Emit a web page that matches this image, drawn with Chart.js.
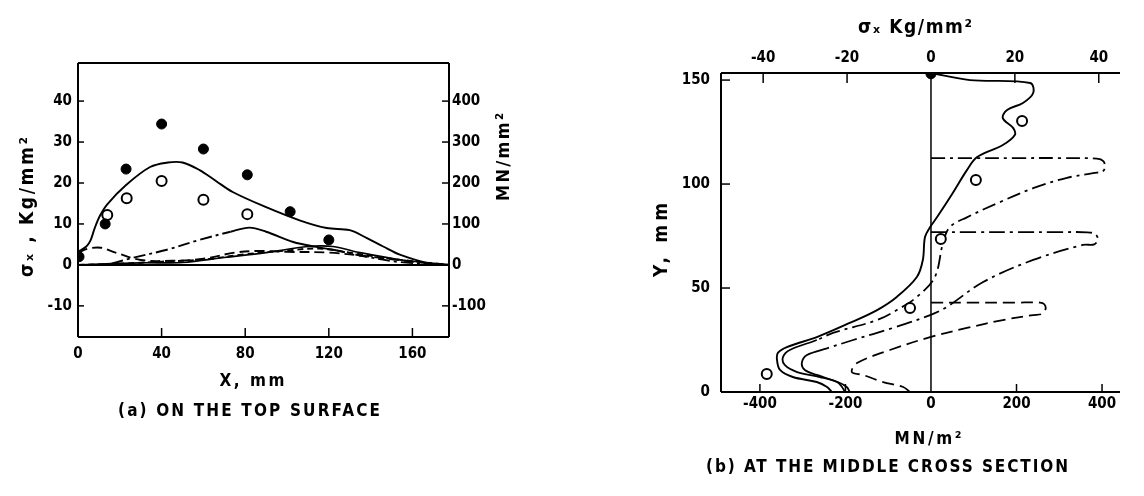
<!DOCTYPE html>
<html><head><meta charset="utf-8">
<script src="https://cdn.jsdelivr.net/npm/chart.js@4.4.1/dist/chart.umd.min.js"></script>
<style>
html,body{margin:0;padding:0;background:#fff;width:1144px;height:496px;overflow:hidden}
#ca{position:absolute;left:0;top:0}
#cb{position:absolute;left:560px;top:0}
</style></head><body>
<canvas id="ca" width="560" height="496"></canvas>
<canvas id="cb" width="584" height="496"></canvas>
<script>
// ---------- Panel (a): on the top surface (X mm, sigma_x Kg/mm2) ----------
const aMeasFilledX = [0.5, 13, 23, 40, 60, 81, 101.5, 120];
const aMeasFilledY = [2, 10, 23.4, 34.4, 28.3, 22, 13, 6.1];
const aMeasOpenX = [14, 23.3, 40, 60, 81];
const aMeasOpenY = [12.2, 16.3, 20.5, 15.9, 12.4];
const aSolidX = [0, 4, 6, 8, 10.5, 14, 23, 34.5, 43, 50, 58, 66, 74, 90, 106, 119, 130, 138, 146, 154, 167, 177.5];
const aSolidY = [3.2, 4.5, 6, 9, 12, 14.8, 19.5, 23.9, 25, 25, 23.2, 20.5, 17.8, 14.1, 10.9, 9, 8.5, 6.6, 4.5, 2.5, 0.5, 0];
const aDashDotX = [16, 26, 42.5, 58, 73, 82, 90, 103, 114, 122, 138, 154, 177.5];
const aDashDotY = [0.3, 1.7, 3.7, 6.1, 8.1, 9.1, 8.1, 5.6, 4.4, 3.7, 2, 0.7, 0];
const aLongDashX = [0, 5, 11, 18, 30, 45, 60, 75, 85, 100, 120, 140, 160, 177.5];
const aLongDashY = [3, 4, 4.2, 3, 1.2, 1, 1.5, 3, 3.4, 3.2, 3, 2, 0.8, 0];
const aShortDashX = [0, 20, 40, 60, 80, 100, 115, 130, 150, 177.5];
const aShortDashY = [0, 0.3, 0.8, 1.3, 2.6, 3.5, 4, 3, 1.5, 0];
const aThinX = [0, 30, 50, 70, 90, 110, 122, 135, 155, 177.5];
const aThinY = [0, 0.5, 0.6, 1.8, 3, 4.5, 4.5, 3, 1.2, 0];
const aZeroX = [0, 177.5];
const aZeroY = [0, 0];

// ---------- Panel (b): middle cross section (MN/m2 vs Y mm) ----------
const bMeasFilledX = [0];
const bMeasFilledY = [153];
const bMeasOpenX = [-384, -49, 23, 105, 213];
const bMeasOpenY = [8.7, 40.4, 73.6, 101.9, 130.3];
const bSolidX = [0, 91, 232, 239, 215, 178, 168, 192, 196, 168, 108, 84, 51, 14, -2, -14, -19, -33, -80, -126, -190, -267, -337, -358, -360, -353, -323, -267, -243, -232];
const bSolidY = [153.4, 150, 148.6, 143.8, 139, 135.6, 131.7, 127, 123.6, 118.8, 113, 106.7, 95.7, 84, 79.3, 74.5, 63.5, 55.3, 45.7, 39.4, 33.2, 26.4, 21.6, 18.8, 15.4, 10.6, 7.2, 4.8, 2.4, 0];
const bDashDotX = [0, 100, 200, 300, 388, 403, 407, 400, 388, 318, 239, 161, 84, 44, 28, 9, -33, -80, -126, -229, -267, -330, -346, -342, -313, -260, -220, -208, -201];
const bDashDotY = [112.5, 112.5, 112.5, 112.5, 112.2, 111, 108, 105.8, 105.5, 103, 98, 91.3, 84, 79.3, 71.6, 55.3, 45.7, 39.4, 34.6, 28.4, 25, 20.2, 16.8, 13, 9.6, 7.2, 4.8, 2.4, 0];
const bDashDot2X = [0, 100, 200, 300, 365, 384, 390, 382, 355, 239, 122, 37, -2, -89, -182, -243, -290, -302, -295, -267, -218, -197, -190];
const bDashDot2Y = [76.9, 76.9, 76.9, 76.9, 76.8, 76, 73.5, 71, 70.7, 63.5, 52.9, 40.9, 37, 30.8, 25, 21, 17.8, 14, 10.6, 8.2, 4.8, 2.4, 0];
const bDashX = [0, 100, 200, 255, 265, 268, 260, 239, 168, 84, -2, -96, -173, -185, -159, -112, -65, -49];
const bDashY = [43, 43, 43, 43, 42.2, 40, 37.6, 37, 34.6, 30.8, 26.4, 20.2, 13.9, 9.6, 8.2, 4.8, 2.4, 0];
const bZeroX = [0, 0];
const bZeroY = [0, 153.4];

const zip = (xs, ys) => xs.map((x, i) => ({x, y: ys[i]}));
const FAM = '"DejaVu Sans Condensed", "DejaVu Sans", "Liberation Sans", sans-serif';
const TICKFONT = {family: FAM, size: 15, weight: 'bold'};

function fitText(ctx, text, cx, cy, width, rot, size) {
  ctx.save();
  ctx.font = 'bold ' + size + 'px ' + FAM;
  ctx.letterSpacing = '0px';
  const w = ctx.measureText(text).width;
  const n = [...text].length;
  let ls = 0;
  if (width && n > 1) ls = (width - w) / (n - 1);
  ctx.letterSpacing = ls + 'px';
  ctx.fillStyle = '#000';
  ctx.textAlign = 'center';
  ctx.textBaseline = 'middle';
  ctx.translate(cx, cy);
  if (rot) ctx.rotate(rot);
  ctx.fillText(text, ls / 2, 0);
  ctx.restore();
}

function line(ctx, x1, y1, x2, y2, w) {
  ctx.beginPath(); ctx.lineWidth = w || 1.5; ctx.strokeStyle = '#000';
  ctx.moveTo(x1, y1); ctx.lineTo(x2, y2); ctx.stroke();
}

const base = {
  responsive: false, animation: false, devicePixelRatio: 1,
  plugins: {legend: {display: false}, tooltip: {enabled: false}},
  elements: {point: {radius: 0}, line: {borderColor: '#000', borderWidth: 1.8, tension: 0.35, fill: false}}
};

function ln(data, dash, w, extra) {
  return Object.assign({data, showLine: true, borderColor: '#000', borderWidth: w || 1.8, borderDash: dash || [], pointRadius: 0, fill: false}, extra || {});
}
function pts(data, filled) {
  return {data, showLine: false, pointRadius: 5, pointHoverRadius: 5, pointStyle: 'circle',
    pointBackgroundColor: filled ? '#000' : '#fff', pointBorderColor: '#000', pointBorderWidth: filled ? 1 : 2};
}

// ---------------- chart A ----------------
const plugA = {
  id: 'decorA',
  afterDraw(c) {
    const ctx = c.ctx, a = c.chartArea, sx = c.scales.x, sy = c.scales.y, sy2 = c.scales.y2;
    ctx.save();
    line(ctx, a.left, a.top, a.right, a.top, 2);
    line(ctx, a.left, a.bottom, a.right, a.bottom, 2);
    line(ctx, a.left, a.top, a.left, a.bottom, 2);
    line(ctx, a.right, a.top, a.right, a.bottom, 2);
    sy.ticks.forEach(t => { if (t.value !== 0) { const p = sy.getPixelForValue(t.value); line(ctx, a.left, p, a.left + 6, p, 1.5); } });
    sy2.ticks.forEach(t => { if (t.value !== 0) { const p = sy2.getPixelForValue(t.value); line(ctx, a.right, p, a.right - 7, p, 1.5); } });
    sx.ticks.forEach(t => { if (t.value !== 0) { const p = sx.getPixelForValue(t.value); line(ctx, p, a.bottom, p, a.bottom - 9, 1.5); } });
    ctx.restore();
    fitText(ctx, 'X, mm', 252, 382, 65, 0, 17);
    fitText(ctx, '(a) ON THE TOP SURFACE', 249, 412, 262, 0, 17);
    fitText(ctx, 'σₓ , Kg/mm²', 28, 207, 140, -Math.PI / 2, 19);
    fitText(ctx, 'MN/mm²', 504, 157, 88, -Math.PI / 2, 18);
  }
};

new Chart(document.getElementById('ca'), {
  type: 'line',
  data: {datasets: [
    pts(zip(aMeasFilledX, aMeasFilledY), true),
    pts(zip(aMeasOpenX, aMeasOpenY), false),
    ln(zip(aSolidX, aSolidY), [], 1.9),
    ln(zip(aDashDotX, aDashDotY), [12, 4, 3, 4], 1.9, {segment: {borderDash: s => (s.p0.parsed.x >= 72 && s.p1.parsed.x <= 124) ? [] : [12, 4, 3, 4]}}),
    ln(zip(aLongDashX, aLongDashY), [10, 5], 1.9),
    ln(zip(aShortDashX, aShortDashY), [6, 4], 1.9),
    ln(zip(aThinX, aThinY), [], 1.6),
    ln(zip(aZeroX, aZeroY), [], 2, {tension: 0})
  ]},
  options: Object.assign({}, base, {
    layout: {padding: {top: 63, left: 0, right: 0, bottom: 0}},
    scales: {
      x: {type: 'linear', position: 'bottom', min: 0, max: 177.5,
        ticks: {stepSize: 40, includeBounds: false, font: TICKFONT, color: '#000', padding: 8, maxRotation: 0},
        grid: {display: false, drawTicks: false}, border: {display: false},
        afterFit: s => { s.height = 159; }},
      y: {type: 'linear', position: 'left', min: -17.6, max: 49.3,
        ticks: {stepSize: 10, includeBounds: false, font: TICKFONT, color: '#000', padding: 6},
        grid: {display: false, drawTicks: false}, border: {display: false},
        afterFit: s => { s.width = 78; }},
      y2: {type: 'linear', position: 'right', min: -176, max: 493,
        ticks: {stepSize: 100, includeBounds: false, font: TICKFONT, color: '#000', padding: 3},
        grid: {display: false, drawTicks: false}, border: {display: false},
        afterFit: s => { s.width = 111; }}
    }
  }),
  plugins: [plugA]
});

// ---------------- chart B ----------------
const plugB = {
  id: 'decorB',
  afterDraw(c) {
    const ctx = c.ctx, a = c.chartArea, sx = c.scales.x, sx2 = c.scales.x2, sy = c.scales.y;
    ctx.save();
    line(ctx, a.left, a.top, a.right, a.top, 2);
    line(ctx, a.left, a.bottom, a.right, a.bottom, 2);
    line(ctx, a.left, a.top, a.left, a.bottom, 2);
    sy.ticks.forEach(t => { if (t.value !== 0) { const p = sy.getPixelForValue(t.value); line(ctx, a.left, p, a.left + 9, p, 1.5); } });
    sx2.ticks.forEach(t => { if (t.value !== 0) { const p = sx2.getPixelForValue(t.value); line(ctx, p, a.top, p, a.top + 10, 1.5); } });
    sx.ticks.forEach(t => { if (t.value !== 0) { const p = sx.getPixelForValue(t.value); line(ctx, p, a.bottom, p, a.bottom - 8, 1.5); } });
    ctx.restore();
    fitText(ctx, 'σₓ Kg/mm²', 915 - 560, 28, 114, 0, 19);
    fitText(ctx, 'MN/m²', 928 - 560, 440, 67, 0, 17);
    fitText(ctx, '(b) AT THE MIDDLE CROSS SECTION', 887 - 560, 468, 362, 0, 17);
    fitText(ctx, 'Y, mm', 662 - 560, 240, 74, -Math.PI / 2, 19);
  }
};

new Chart(document.getElementById('cb'), {
  type: 'line',
  data: {datasets: [
    pts(zip(bMeasFilledX, bMeasFilledY), true),
    pts(zip(bMeasOpenX, bMeasOpenY), false),
    ln(zip(bSolidX, bSolidY), [], 1.9),
    ln(zip(bDashDotX, bDashDotY), [14, 5, 3, 5], 1.8, {segment: {borderDash: s => (s.p0.parsed.y < 27) ? [] : [14, 5, 3, 5]}}),
    ln(zip(bDashDot2X, bDashDot2Y), [16, 5, 3, 5], 1.8, {segment: {borderDash: s => (s.p0.parsed.y < 22) ? [] : [16, 5, 3, 5]}}),
    ln(zip(bDashX, bDashY), [12, 6], 1.8),
    ln(zip(bZeroX, bZeroY), [], 1.5, {tension: 0})
  ]},
  options: Object.assign({}, base, {
    layout: {padding: {top: 0, left: 0, right: 24, bottom: 0}},
    scales: {
      x: {type: 'linear', position: 'bottom', min: -491, max: 442,
        ticks: {stepSize: 200, includeBounds: false, font: TICKFONT, color: '#000', padding: 3, maxRotation: 0},
        grid: {display: false, drawTicks: false}, border: {display: false},
        afterFit: s => { s.height = 104; }},
      x2: {type: 'linear', position: 'top', min: -50.05, max: 45.06,
        ticks: {stepSize: 20, includeBounds: false, font: TICKFONT, color: '#000', padding: 6, maxRotation: 0},
        grid: {display: false, drawTicks: false}, border: {display: false},
        afterFit: s => { s.height = 73; }},
      y: {type: 'linear', position: 'left', min: 0, max: 153.4,
        ticks: {stepSize: 50, includeBounds: false, font: TICKFONT, color: '#000', padding: 11},
        grid: {display: false, drawTicks: false}, border: {display: false},
        afterFit: s => { s.width = 161; }}
    }
  }),
  plugins: [plugB]
});
</script>
</body></html>
